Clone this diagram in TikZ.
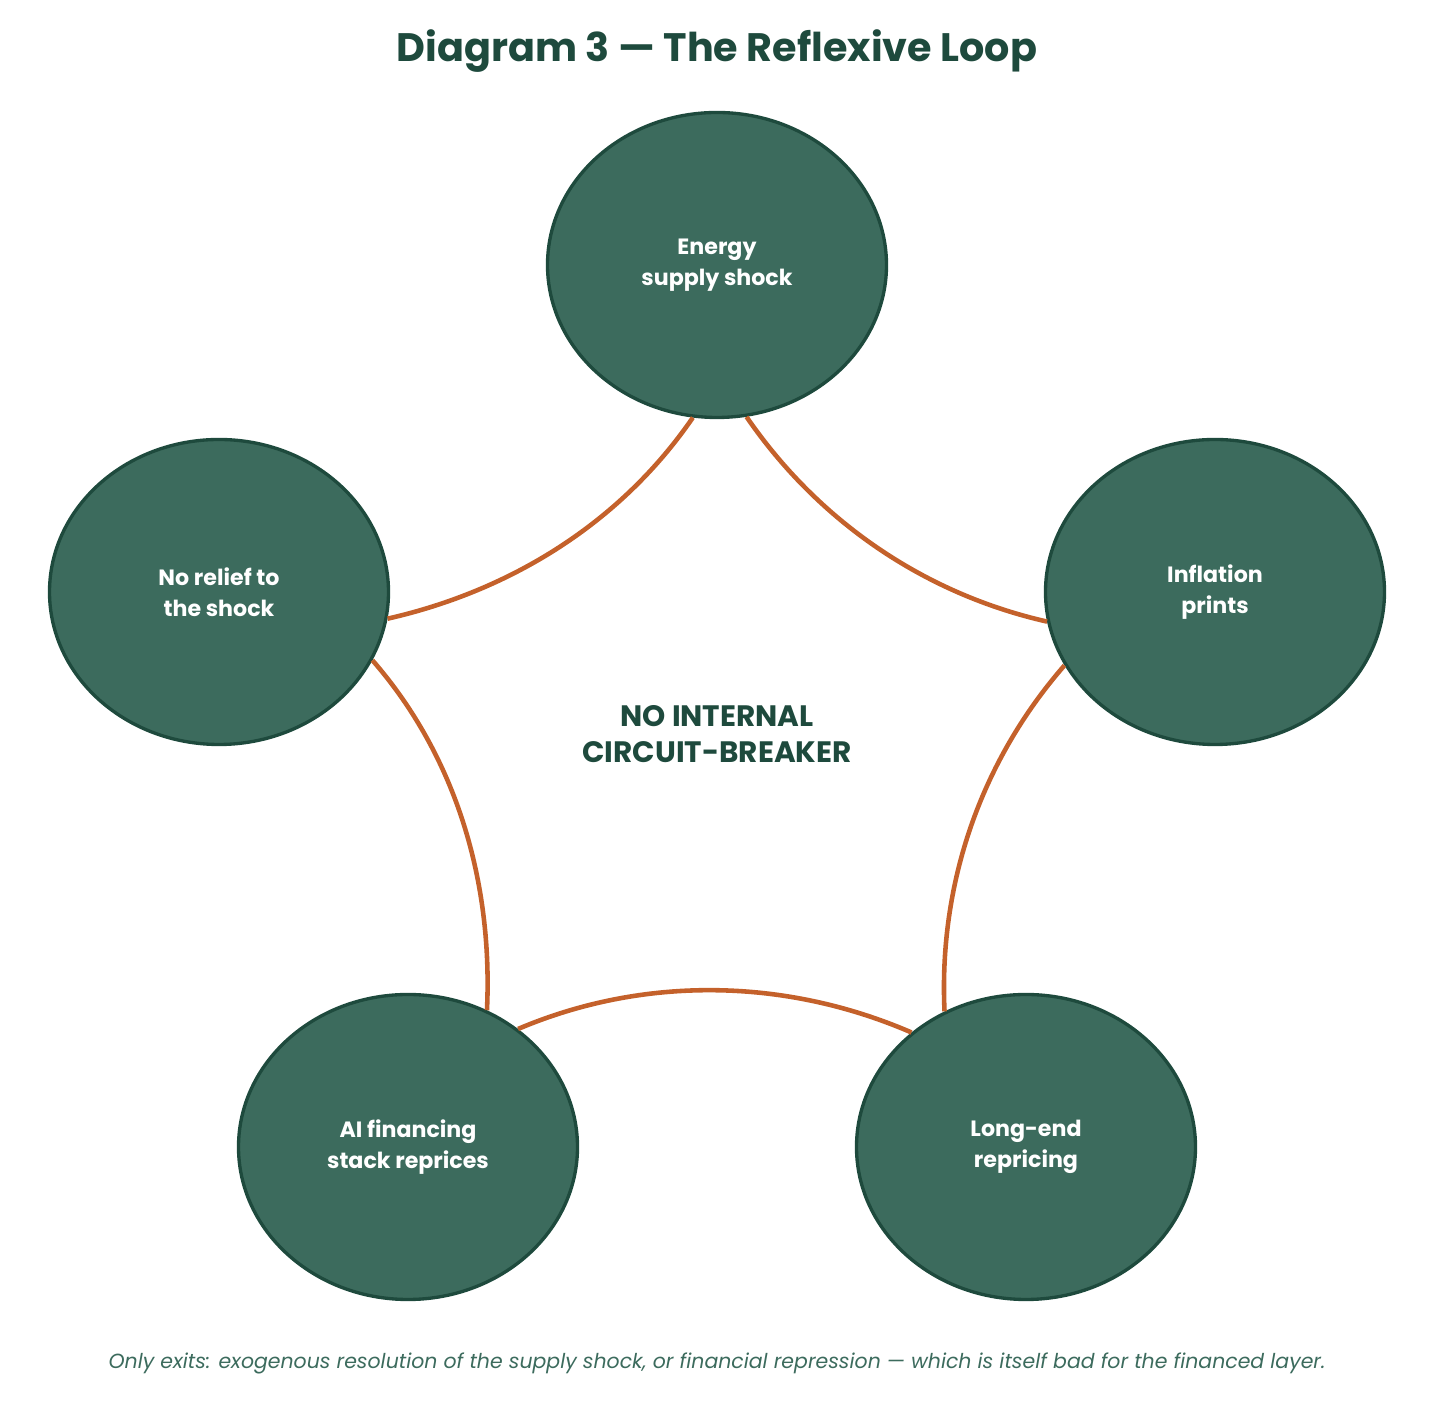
\documentclass[tikz,border=0pt]{standalone}
\usepackage{fontspec}
\setmainfont{Poppins}
\usetikzlibrary{shapes.geometric}

\definecolor{loopgreen}{HTML}{3C6B5D}
\definecolor{loopdark}{HTML}{1E4A3D}
\definecolor{looprust}{HTML}{C4612B}

\begin{document}
\begin{tikzpicture}[auto,
  main node/.style={ellipse,draw=loopdark,fill=loopgreen,line width=0.95pt,
    minimum width=3.39cm,minimum height=3.05cm,inner sep=0pt,
    text=white,align=center,font=\bfseries\fontsize{6.3}{8.8}\selectfont},
  loop edge/.style={draw=looprust,line width=1.3pt,looseness=0.89}]

  \useasboundingbox (0,0) rectangle (14.34,14.26);

  \node[text=loopdark,font=\bfseries\fontsize{11.3}{13}\selectfont] (title) at (7.17,13.75)
    {Diagram 3 — The Reflexive Loop};

  \node[main node] (1) at (7.17,11.61) {Energy\\supply shock};
  \node[main node] (2) at (12.15,8.34) {Inflation\\prints};
  \node[main node] (3) at (10.26,2.79) {Long-end\\repricing};
  \node[main node] (4) at (4.08,2.79) {AI financing\\stack reprices};
  \node[main node] (5) at (2.19,8.34) {No relief to\\the shock};

  \node[text=loopdark,align=center,font=\bfseries\fontsize{8.4}{10.2}\selectfont] (core) at (7.17,6.92)
    {NO INTERNAL\\CIRCUIT-BREAKER};

  \path[loop edge]
    (1.-79.6) edge[out=-55.5,in=167.2] (2.190.1)
    (2.206)   edge[out=-131.1,in=92.7] (3.121.8)
    (3.135.2) edge[out=156.6,in=23] (4.47.8)
    (4.60)    edge[out=87.3,in=-48.9] (5.-24.5)
    (5.-9.2)  edge[out=12.8,in=-124.5] (1.261);

  \node[text=loopgreen,font=\itshape\fontsize{5.82}{7}\selectfont] (note) at (7.17,0.63)
    {Only exits: exogenous resolution of the supply shock, or financial repression — which is itself bad for the financed layer.};
\end{tikzpicture}
\end{document}
